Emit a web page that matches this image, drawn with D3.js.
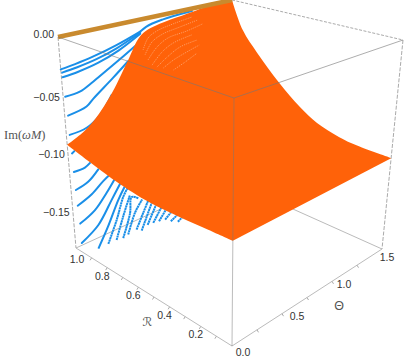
<!DOCTYPE html>
<html lang="en">

<head>
  <meta charset="UTF-8" />
  <title>Im(ωM) surface</title>
  <script src="https://d3js.org/d3.v7.min.js"></script>
  <style>
    body {
      margin: 0;
      background-color: #fff;
    }

    svg {
      display: block;
    }

    .tick-label {
      font-family: "Liberation Sans", sans-serif;
      font-size: 10.5px;
      fill: #333;
    }

    .axis-label {
      font-family: "Liberation Serif", serif;
      font-size: 12.5px;
      fill: #555;
    }
  </style>
</head>

<body>
  <div id="chart"></div>

  <script>
    // outline of the orange surface, one list per side of the (R, theta) square
    const sideThetaZero = [[1, -0.094], [0.715, -0.105], [0.5, -0.1087], [0.15, -0.107], [0, -0.106]]; // [R, Im]
    const sideRZero = [[0, -0.106], [1.5, -0.104]]; // [theta, Im]
    const sideThetaMax = [[0, -0.104], [0.21, -0.1035], [0.32, -0.1015], [0.46, -0.0955], [0.567, -0.0862], [0.7, -0.0695], [0.84, -0.0466], [0.93, -0.028], [1, 0]]; // [R, Im]
    const sideROne = [[1.5, 0], [1.3, -0.001], [1.15, -0.0035], [0.8, -0.01], [0.7, -0.016], [0.59, -0.035], [0.41, -0.064], [0.2, -0.085], [0, -0.094]]; // [theta, Im]

    // blue curves as [theta, Im] at R = 1
    const blueEdgeR = 1;
    const blueEdge = [
      [[0, -0.0282], [0.1275, -0.0267], [0.285, -0.024], [0.495, -0.0186], [0.705, -0.0112]],
      [[0.01, -0.0313], [0.138, -0.03], [0.315, -0.027], [0.495, -0.0216], [0.705, -0.0121]],
      [[0.01, -0.0353], [0.15, -0.034], [0.33, -0.0305], [0.51, -0.0241], [0.705, -0.0133]],
      [[0.018, -0.0526], [0.15, -0.0517], [0.276, -0.046], [0.459, -0.0357], [0.67, -0.0228]],
      [[0.03, -0.0694], [0.2, -0.0663], [0.264, -0.0612], [0.45, -0.0475], [0.59, -0.036]],
      [[0.03, -0.0863], [0.1875, -0.0848], [0.315, -0.0773], [0.43, -0.0625]],
      [[0.66, -0.015], [0.757, -0.008], [0.905, -0.0045], [1.155, -0.0025]],
      [[0.037, -0.1027], [0.06, -0.1014]],
      [[0.04, -0.119], [0.145, -0.1187], [0.195, -0.1163]],
      [[0.045, -0.135], [0.165, -0.132], [0.267, -0.1245]],
      [[0.05, -0.149], [0.19, -0.144], [0.306, -0.1365], [0.373, -0.133]],
      [[0.06, -0.165], [0.21, -0.1588], [0.33, -0.148], [0.411, -0.139]],
      [[0.06, -0.182], [0.2325, -0.173], [0.375, -0.156], [0.465, -0.1445]],
    ];

    // blue curves as [theta, Im] at R = 0.85
    const blueInnerR = 0.85;
    const blueInner = [
      [[0, -0.172], [0.105, -0.1575], [0.218, -0.1386], [0.285, -0.1295]],
      [[0.098, -0.172], [0.192, -0.155], [0.267, -0.1376], [0.312, -0.1317]],
      [[0.18, -0.172], [0.255, -0.1546], [0.33, -0.1386]],
      [[0.245, -0.173], [0.3225, -0.1544], [0.345, -0.141], [0.408, -0.1445]],
      [[0.295, -0.172], [0.369, -0.156], [0.444, -0.147]],
      [[0.378, -0.171], [0.45, -0.159], [0.5025, -0.15]],
      [[0.4275, -0.174], [0.54, -0.1525]],
      [[0.4875, -0.1715], [0.582, -0.156]],
      [[0.543, -0.172], [0.63, -0.161]],
      [[0.6, -0.173], [0.678, -0.1645]],
      [[0.66, -0.174], [0.726, -0.1695]],
      [[0.7155, -0.178], [0.783, -0.175]],
      [[0.785, -0.1816], [0.835, -0.179]],
    ];

    // pale streaks on the surface, [theta, Im] at R = 1
    const streaks = [
      [[0.725, -0.029], [0.771, -0.019], [0.85, -0.0142], [0.99, -0.011], [1.155, -0.0084]],
      [[0.741, -0.034], [0.804, -0.0236], [0.9, -0.0184], [1.05, -0.0155], [1.2, -0.0127]],
      [[0.765, -0.0396], [0.8475, -0.0295], [0.945, -0.0234], [1.11, -0.021], [1.245, -0.0177]],
      [[0.8, -0.0454], [0.89, -0.0355], [0.99, -0.0295], [1.155, -0.026]],
      [[0.843, -0.0485], [0.935, -0.0416], [1.05, -0.035], [1.2, -0.0324]],
      [[0.9, -0.051], [0.99, -0.046], [1.11, -0.0416], [1.22, -0.038]],
      [[0.99, -0.0556], [1.095, -0.051], [1.2, -0.0455]],
    ];

    const imTicks = [0, -0.05, -0.1, -0.15];
    const rTicks = [1, 0.8, 0.6, 0.4, 0.2];
    const thetaTicks = [0, 0.5, 1, 1.5];

    const width = 407;
    const height = 360;

    const rScale = d3.scaleLinear().domain([1, 0]).range([0, 1]);
    const thetaScale = d3.scaleLinear().domain([0, 1.5]).range([0, 1]);
    const imScale = d3.scaleLinear().domain([0, -0.184]).range([0, 1]);

    // screen position of the box corners, indexed [R end][theta end][top / bottom]
    const corners = [
      [[[58, 37], [76, 248]], [[232, 0], [226, 179]]],
      [[[234, 98], [232, 346]], [[403, 40], [382, 249]]],
    ];

    function project(r, theta, im) {
      const u = rScale(r);
      const t = thetaScale(theta);
      const s = imScale(im);
      const at = (k) => {
        const mix = (a, b, f) => a + (b - a) * f;
        const edge = (i) => mix(
          mix(corners[i][0][0][k], corners[i][0][1][k], s),
          mix(corners[i][1][0][k], corners[i][1][1][k], s),
          t
        );
        return mix(edge(0), edge(1), u);
      };
      return [at(0), at(1)];
    }

    const svg = d3
      .select("#chart")
      .append("svg")
      .attr("width", width)
      .attr("height", height);

    const curve = d3.line().curve(d3.curveCatmullRom.alpha(0.5));

    function boxLine(a, b, color, dash, opacity) {
      svg
        .append("path")
        .attr("d", d3.line()([project(...a), project(...b)]))
        .attr("fill", "none")
        .attr("stroke", color)
        .attr("stroke-width", 1)
        .attr("stroke-dasharray", dash)
        .attr("opacity", opacity);
    }

    const bottom = imScale.domain()[1];

    // back of the box, behind the data
    boxLine([1, 0, bottom], [1, 1.5, bottom], "#bbb", null, 1);
    boxLine([1, 1.5, bottom], [0, 1.5, bottom], "#bbb", null, 1);
    boxLine([1, 0, 0], [1, 0, bottom], "#aaa", "4 1.5", 1);
    boxLine([1, 1.5, 0], [0, 1.5, 0], "#aaa", "3 1.5", 1);
    boxLine([0, 1.5, 0], [0, 1.5, bottom], "#aaa", "4 1.5", 1);
    boxLine([1, 0, bottom], [0, 0, bottom], "#bbb", null, 1);
    boxLine([0, 0, bottom], [0, 1.5, bottom], "#bbb", null, 1);

    // blue curves
    const blueColor = "#1a8fe8";
    svg
      .append("g")
      .selectAll("path")
      .data(blueEdge)
      .join("path")
      .attr("d", (d) => curve(d.map((p) => project(blueEdgeR, p[0], p[1]))))
      .attr("fill", "none")
      .attr("stroke", blueColor)
      .attr("stroke-width", 2)
      .attr("stroke-linecap", "round");

    svg
      .append("g")
      .selectAll("path")
      .data(blueInner)
      .join("path")
      .attr("d", (d) => curve(d.map((p) => project(blueInnerR, p[0], p[1]))))
      .attr("fill", "none")
      .attr("stroke", blueColor)
      .attr("stroke-width", 2)
      .attr("stroke-dasharray", (d, i) => (i < 1 ? null : "2.2 0.4"));

    // orange surface: the four sides joined into one closed outline
    const orange = "#ff6209";
    const outline = [
      sideThetaZero.map((d) => project(d[0], 0, d[1])),
      sideRZero.map((d) => project(0, d[0], d[1])),
      sideThetaMax.map((d) => project(d[0], 1.5, d[1])),
      sideROne.map((d) => project(1, d[0], d[1])),
    ]
      .map((side, i) => (i ? curve(side).replace("M", "L") : curve(side)))
      .join("");

    svg
      .append("path")
      .attr("d", outline + "Z")
      .attr("fill", orange);

    svg
      .append("g")
      .selectAll("path")
      .data(streaks)
      .join("path")
      .attr("d", (d) => curve(d.map((p) => project(1, p[0], p[1]))))
      .attr("fill", "none")
      .attr("stroke", "#ff9a5e")
      .attr("stroke-width", 1)
      .attr("stroke-dasharray", "1.2 1");

    // brown line where Im is zero
    svg
      .append("path")
      .attr("d", d3.line()([project(1, 0, 0), project(1, 1.5, 0)]))
      .attr("stroke", "#c98a2e")
      .attr("stroke-width", 4.5);

    // front of the box shows through
    boxLine([1, 0, 0], [0, 0, 0], "#777", null, 0.6);
    boxLine([0, 0, 0], [0, 1.5, 0], "#777", null, 0.6);
    boxLine([0, 0, 0], [0, 0, bottom], "#777", null, 0.5);

    // ticks and labels
    const tickMark = (p, dx, dy) => {
      svg
        .append("line")
        .attr("x1", p[0])
        .attr("y1", p[1])
        .attr("x2", p[0] + dx)
        .attr("y2", p[1] + dy)
        .attr("stroke", "#aaa");
    };

    d3.range(0.1, 1, 0.1).forEach((r) => tickMark(project(r, 0, bottom), -1.5, 2.5));
    d3.range(0.25, 1.5, 0.25).forEach((t) => tickMark(project(0, t, bottom), 1.5, 2.5));

    imTicks.forEach((v, i) => {
      const p = project(1, 0, v);
      svg
        .append("text")
        .attr("class", "tick-label")
        .attr("x", p[0] - (i ? 3 : 4))
        .attr("y", p[1] + (i ? 6.5 : 0.5))
        .attr("text-anchor", "end")
        .text(v === 0 ? "0.00" : "\u2212" + d3.format(".2f")(-v));
    });

    rTicks.forEach((v, i) => {
      const p = project(v, 0, bottom);
      svg
        .append("text")
        .attr("class", "tick-label")
        .attr("x", p[0] + (i ? -5 : 1))
        .attr("y", p[1] + (i ? 12 : 15))
        .attr("text-anchor", "middle")
        .text(d3.format(".1f")(v));
    });

    const thetaNudge = [[11, 10], [15, 6], [12, 7], [5, 12]];
    thetaTicks.forEach((v, i) => {
      const p = project(0, v, bottom);
      svg
        .append("text")
        .attr("class", "tick-label")
        .attr("x", p[0] + thetaNudge[i][0])
        .attr("y", p[1] + thetaNudge[i][1])
        .attr("text-anchor", "middle")
        .text(d3.format(".1f")(v));
    });

    const imLabel = svg
      .append("text")
      .attr("class", "axis-label")
      .attr("x", 4)
      .attr("y", 139);
    imLabel.append("tspan").text("Im(");
    imLabel.append("tspan").attr("font-style", "italic").text("ωM");
    imLabel.append("tspan").text(")");

    svg
      .append("text")
      .attr("class", "axis-label")
      .attr("x", 147)
      .attr("y", 326)
      .attr("text-anchor", "middle")
      .attr("font-style", "italic")
      .style("font-family", "'DejaVu Sans'")
      .style("font-size", "12px")
      .text("\u211B");

    svg
      .append("text")
      .attr("class", "axis-label")
      .attr("x", 339)
      .attr("y", 310)
      .attr("text-anchor", "middle")
      .style("font-family", "'Liberation Sans'")
      .text("Θ");
  </script>
</body>

</html>
